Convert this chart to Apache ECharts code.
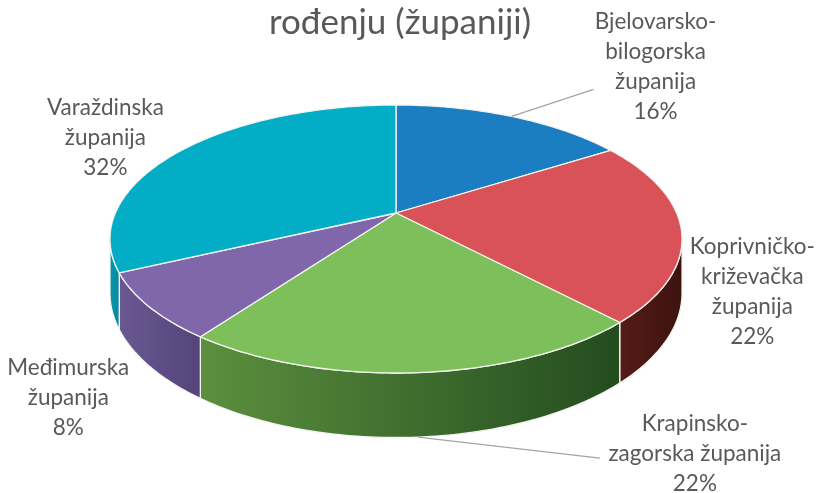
<!DOCTYPE html>
<html>
<head>
<meta charset="utf-8">
<script src="https://cdn.jsdelivr.net/npm/echarts@6/dist/echarts.min.js"></script>
<style>
html, body { margin: 0; background: #fff; }
#main { width: 822px; height: 493px; }
</style>
</head>
<body>
<div id="main"></div>
<script>
// data
var names = ['Bjelovarsko-bilogorska županija', 'Koprivničko-križevačka županija', 'Krapinsko-zagorska županija', 'Međimurska županija', 'Varaždinska županija'];
var values = [16, 22, 22, 8, 32];
var labelLines = [
    ['Bjelovarsko-', 'bilogorska', 'županija'],
    ['Koprivničko-', 'križevačka', 'županija'],
    ['Krapinsko-', 'zagorska županija'],
    ['Međimurska', 'županija'],
    ['Varaždinska', 'županija']
];

var topColors = ['#1b7dc2', '#d95257', '#7dbf5b', '#8066aa', '#04adc6'];
var sideColors = [
    ['#155f94', '#124f7c'],
    ['#561c19', '#3c120f'],
    ['#5c8f3e', '#234c1f'],
    ['#6b5892', '#54447a'],
    ['#0797ae', '#06889e']
];
// label offset from the slice's rim point, and leader line end (if any)
var labelShift = [[144, -50], [71, 62], [277, 17], [-81, 32], [-76, -13]];
var leaderEnd = [[82, -27], null, [182, 21], null, null];

// 3d look: tilted disc with a bit of perspective
var cx = 396, cy = 213, rx = 280.6, ry = 128.95, persp = 0.194, depth = 52;
var frontA = Math.acos(-persp) * 180 / Math.PI;
var frontB = 360 - frontA;

var total = values.reduce(function (a, b) { return a + b; }, 0);

function proj(deg, r) {
    if (r == null) r = 1;
    var a = deg * Math.PI / 180;
    var u = r * Math.sin(a), v = r * Math.cos(a);
    var w = 1 + persp * v;
    return [cx + rx * u / w, cy - ry * v / w, w];
}
function down(p) {
    return [p[0], p[1] + depth / p[2]];
}
function arc(a, b) {
    var pts = [];
    var n = Math.max(2, Math.ceil(Math.abs(b - a)));
    for (var k = 0; k <= n; k++) {
        pts.push(proj(a + (b - a) * k / n));
    }
    return pts;
}

function renderItem(params, api) {
    var i = params.dataIndex;
    var before = 0;
    for (var j = 0; j < i; j++) before += values[j];
    var start = before / total * 360;
    var end = (before + values[i]) / total * 360;
    var mid = (start + end) / 2;
    var children = [];

    // side wall (front half only)
    var a = Math.max(start, frontA), b = Math.min(end, frontB);
    if (b > a) {
        var rim = arc(a, b);
        var pts = rim.map(function (p) { return [p[0], p[1]]; });
        for (var k = rim.length - 1; k >= 0; k--) pts.push(down(rim[k]));
        children.push({
            type: 'polygon',
            z2: 1,
            shape: { points: pts },
            style: {
                fill: new echarts.graphic.LinearGradient(0, 0, 1, 0, [
                    { offset: 0, color: sideColors[i][0] },
                    { offset: 1, color: sideColors[i][1] }
                ]),
                stroke: '#f4f4ee',
                lineWidth: 1.3
            }
        });
    }

    // top face
    var top = [[cx, cy]].concat(arc(start, end).map(function (p) { return [p[0], p[1]]; }));
    children.push({
        type: 'polygon',
        z2: 5,
        shape: { points: top },
        style: { fill: topColors[i], stroke: '#f4f4ee', lineWidth: 1.3 }
    });

    // label
    var anchor = proj(mid);
    if (mid > frontA && mid < frontB) anchor = down(anchor);
    var pct = Math.round(values[i] / total * 100) + '%';
    children.push({
        type: 'text',
        z2: 10,
        x: anchor[0] + labelShift[i][0],
        y: anchor[1] + labelShift[i][1],
        style: {
            text: labelLines[i].concat([pct]).join('\n'),
            fill: '#595959',
            fontSize: 22.5,
            fontFamily: 'Lato',
            lineHeight: 30,
            align: 'center',
            verticalAlign: 'middle'
        }
    });
    if (leaderEnd[i]) {
        children.push({
            type: 'polyline',
            z2: 8,
            shape: { points: [[anchor[0], anchor[1]], [anchor[0] + leaderEnd[i][0], anchor[1] + leaderEnd[i][1]]] },
            style: { stroke: '#a5a5a5', lineWidth: 1.4, fill: null }
        });
    }

    return { type: 'group', children: children };
}

var chart = echarts.init(document.getElementById('main'));
chart.setOption({
    backgroundColor: '#fff',
    animation: false,
    title: {
        text: 'rođenju (županiji)',
        left: 395,
        top: 0,
        textAlign: 'center',
        textStyle: { color: '#595959', fontSize: 35, fontWeight: 'normal', fontFamily: 'Lato' }
    },
    series: [{
        type: 'custom',
        coordinateSystem: 'none',
        silent: true,
        data: values.map(function (v, i) { return { name: names[i], value: v }; }),
        renderItem: renderItem
    }]
});
</script>
</body>
</html>
